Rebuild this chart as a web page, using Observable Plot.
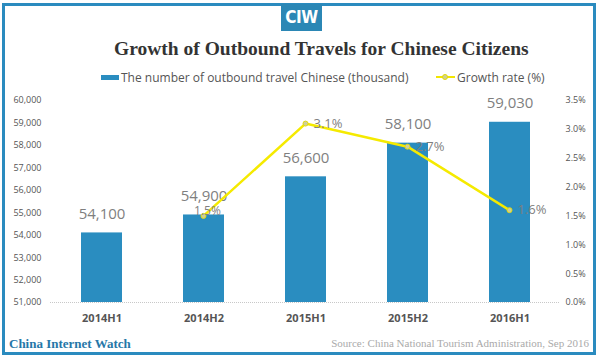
<!DOCTYPE html>
<html>
<head>
<meta charset="utf-8">
<script src="https://cdn.jsdelivr.net/npm/d3@7"></script>
<script src="https://cdn.jsdelivr.net/npm/@observablehq/plot@0.6"></script>
<style>
  html, body { margin: 0; padding: 0; background: #fff; }
  #wrap { position: relative; width: 600px; height: 358px; overflow: hidden; font-family: "Open Sans", "Noto Sans", sans-serif; }
  #frame { position: absolute; left: 2px; top: 3px; width: 588px; height: 346px; border: 3px solid #2a8bbf; }
  #logo { position: absolute; left: 281px; top: 4px; width: 41px; height: 27px; background: #2b87b5; color: #fff;
          font: bold 17px "Liberation Sans Narrow", "DejaVu Sans Condensed", sans-serif; text-align: center; line-height: 27px; letter-spacing: -0.5px; }
  #title { position: absolute; left: 114px; top: 38px; white-space: nowrap; font: bold 19.5px "Liberation Serif", serif; color: #333; }
  .leg { position: absolute; top: 69px; font-size: 12px; color: #555; white-space: nowrap; }
  #sw1 { position: absolute; left: 101px; top: 75px; width: 18px; height: 5px; background: #2a8dc0; }
  #sw2 { position: absolute; left: 436px; top: 76px; width: 19px; height: 2px; background: #f2e600; }
  #sw2dot { position: absolute; left: 442px; top: 74px; width: 4px; height: 4px; border-radius: 50%; background: #cfcf9a; border: 1px solid #e5dc00; }
  #chart1, #chart2 { position: absolute; left: 0; top: 90px; }
  #brand { position: absolute; left: 9px; top: 336px; font: bold 13px "Liberation Serif", serif; color: #2677a8; white-space: nowrap; }
  #source { position: absolute; right: 11px; top: 337px; font: 11px "Liberation Serif", serif; color: #aaa; white-space: nowrap; }
</style>
</head>
<body>
<div id="wrap">
  <div id="frame"></div>
  <div id="logo">CIW</div>
  <div id="title">Growth of Outbound Travels for Chinese Citizens</div>
  <div id="sw1"></div>
  <div class="leg" style="left:121px">The number of outbound travel Chinese (thousand)</div>
  <div id="sw2"></div><div id="sw2dot"></div>
  <div class="leg" style="left:457px">Growth rate (%)</div>
  <div id="chart1"></div>
  <div id="chart2"></div>
  <div id="brand">China Internet Watch</div>
  <div id="source">Source: China National Tourism Administration, Sep 2016</div>
</div>
<script>
const periods = ["2014H1", "2014H2", "2015H1", "2015H2", "2016H1"];
const travelers = [54100, 54900, 56600, 58100, 59030];
const growthPeriods = ["2014H2", "2015H1", "2015H2", "2016H1"];
const growthRates = [1.5, 3.1, 2.7, 1.6];
const leftTicks = [51000, 52000, 53000, 54000, 55000, 56000, 57000, 58000, 59000, 60000];
const rightTicks = [0, 0.5, 1.0, 1.5, 2.0, 2.5, 3.0, 3.5];

const bars = periods.map((p, i) => ({period: p, value: travelers[i]}));
const growth = growthPeriods.map((p, i) => ({period: p, rate: growthRates[i]}));

const W = 600, H = 240;
const common = {
  width: W, height: H, marginTop: 10, marginBottom: 28, marginLeft: 50, marginRight: 40,
  style: {background: "transparent", color: "#555", fontFamily: "'Open Sans', 'Noto Sans', sans-serif"}
};
const xScale = {domain: periods, paddingInner: 0.6, paddingOuter: 0.3, label: null};

const p1 = Plot.plot({
  ...common,
  x: xScale,
  y: {domain: [51000, 60000], clamp: true, label: null},
  marks: [
    Plot.barY(bars, {x: "period", y: "value", fill: "#2a8dc0"}),
    Plot.ruleY([51000], {stroke: "#c8c8c8", strokeDasharray: "1,1"}),
    Plot.text(bars, {x: "period", y: "value", text: d => d3.format(",")(d.value), dy: -19, fontSize: 15, fill: "#7f7f7f"}),
    Plot.axisY({ticks: leftTicks, tickFormat: d3.format(","), tickSize: 0, tickPadding: 9, fontSize: 9, label: null}),
    Plot.axisX({tickSize: 0, tickPadding: 12, fontSize: 11, fontWeight: "bold", label: null})
  ]
});
document.getElementById("chart1").appendChild(p1);

const pct = d => d.rate.toFixed(1) + "%";
const p2 = Plot.plot({
  ...common,
  x: {...xScale, axis: null},
  y: {domain: [0, 3.5], label: null},
  marks: [
    Plot.line(growth, {x: "period", y: "rate", stroke: "#f5ea00", strokeWidth: 2.5}),
    Plot.dot(growth, {x: "period", y: "rate", r: 2.5, fill: "#cfcf9a", stroke: "#e2da10", strokeWidth: 1}),
    Plot.text(growth.filter(d => d.period === "2014H2"), {x: "period", y: "rate", text: pct, dx: 4, dy: -5, fontSize: 12, fill: "#7f7f7f"}),
    Plot.text(growth.filter(d => d.period !== "2014H2"), {x: "period", y: "rate", text: pct, dx: 8, textAnchor: "start", fontSize: 13, fill: "#7f7f7f"}),
    Plot.axisY({anchor: "right", ticks: rightTicks, tickFormat: d => d.toFixed(1) + "%", tickSize: 0, tickPadding: 5, fontSize: 9, label: null})
  ]
});
document.getElementById("chart2").appendChild(p2);
</script>
</body>
</html>
